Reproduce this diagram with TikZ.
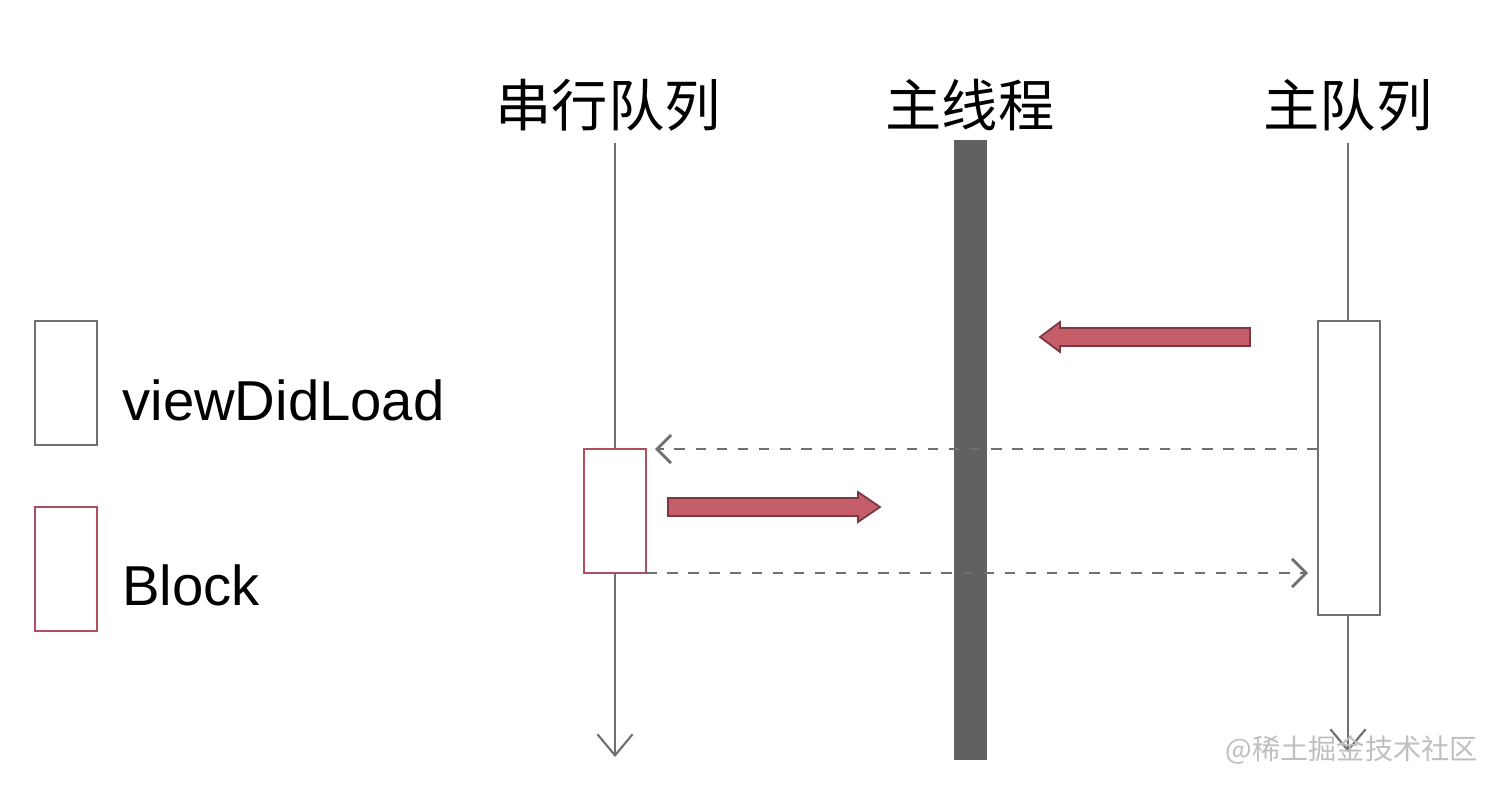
\documentclass[tikz,border=0pt]{standalone}
\usepackage{fontspec}
\setmainfont{Liberation Sans}
\newfontfamily\cjk{Noto Sans CJK SC}
\usetikzlibrary{arrows.meta}
\definecolor{redb}{HTML}{B0505E}
\definecolor{redf}{HTML}{C65E6A}
\definecolor{lgray}{HTML}{707070}
\tikzset{
  title/.style={font=\cjk\fontsize{16}{18}\selectfont, anchor=center},
  life/.style={draw=lgray, line width=0.6pt, -{Straight Barb[length=6pt,width=10pt]}},
  graybox/.style={draw=lgray, fill=white, line width=0.8pt},
  redbox/.style={draw=redb, fill=white, line width=0.8pt},
  dashline/.style={draw=lgray, line width=0.8pt, dashed, -{Straight Barb[length=4pt,width=8pt]}},
  redarrow/.style={fill=redf, draw=redb!70!black, line width=0.5pt},
  legend/.style={font=\fontsize{16}{18}\selectfont, anchor=west}
}
\begin{document}
\begin{tikzpicture}[x=0.01cm,y=-0.01cm]
\useasboundingbox (0,0) rectangle (1512,784);
\fill[white] (0,0) rectangle (1512,784);
\node[title] (t1) at (608,105) {串行队列};
\node[title] (t2) at (970,105) {主线程};
\node[title] (t3) at (1348,105) {主队列};
\coordinate (l1s) at (615,143); \coordinate (l1e) at (615,757);
\coordinate (l3s) at (1348,143); \coordinate (l3e) at (1348,752);
\draw[life] (l1s) -- (l1e);
\draw[life] (l3s) -- (l3e);
\fill[black!62] (954,140) rectangle (987,760);
\draw[graybox] (1318,321) rectangle (1380,615);
\draw[redbox] (584,449) rectangle (646,573);
\draw[graybox] (35,321) rectangle (97,445);
\draw[redbox] (35,507) rectangle (97,631);
\node[legend] (vd) at (110,400) {viewDidLoad};
\node[legend] (bl) at (110,585) {Block};
\draw[redarrow] (1250,328) -- (1060,328) -- (1060,322) -- (1040,337) -- (1060,352) -- (1060,346) -- (1250,346) -- cycle;
\draw[redarrow] (668,498) -- (858,498) -- (858,492) -- (880,507) -- (858,522) -- (858,516) -- (668,516) -- cycle;
\coordinate (d1s) at (1318,449); \coordinate (d1e) at (655,449);
\coordinate (d2s) at (646,573); \coordinate (d2e) at (1308,573);
\draw[dashline] (d1s) -- (d1e);
\draw[dashline] (d2s) -- (d2e);
\node[font=\cjk\fontsize{8}{9}\selectfont, text=black!25, anchor=east] (wm) at (1490,750) {@稀土掘金技术社区};
\end{tikzpicture}
\end{document}
